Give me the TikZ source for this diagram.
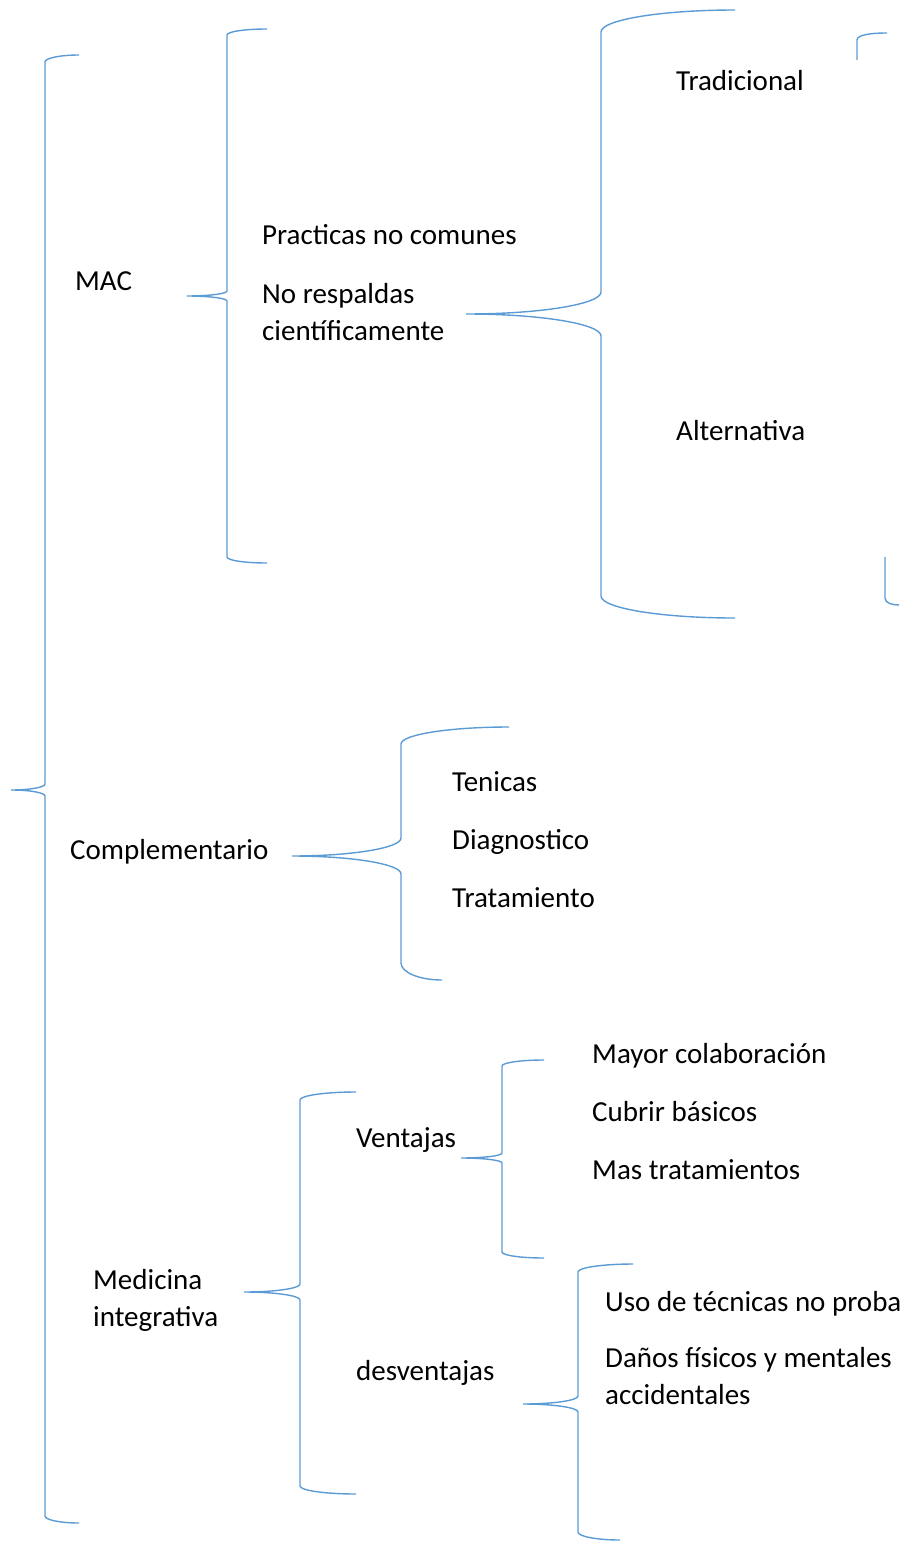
\documentclass[tikz,border=0pt]{standalone}
\usepackage{fontspec}
\setmainfont{Carlito}
\usetikzlibrary{calc}
\definecolor{bracecol}{RGB}{91,155,213}
\tikzset{
  brace line/.style={draw=bracecol, line width=1.4pt},
  item text/.style={anchor=base west, inner sep=0pt, align=left,
    font=\fontsize{29}{37}\selectfont},
}
% Word-style left brace:
% #1 x of stem, #2 top y, #3 top end x, #4 bottom y, #5 bottom end x,
% #6 tip x, #7 tip y, #8 end bend, #9 tip bend
\newcommand{\wordbrace}[9]{%
  \draw[brace line] (#3,#2) .. controls ({#1+0.448*(#3-#1)},#2) and (#1,{#2+0.448*#8}) .. (#1,{#2+#8})
    -- (#1,{#7-#9}) .. controls (#1,{#7-0.448*#9}) and ({#6+0.552*(#1-#6)},#7) .. (#6,#7)
    .. controls ({#6+0.552*(#1-#6)},#7) and (#1,{#7+0.448*#9}) .. (#1,{#7+#9})
    -- (#1,{#4-#8}) .. controls (#1,{#4-0.448*#8}) and ({#1+0.448*(#5-#1)},#4) .. (#5,#4);}

\begin{document}
\begin{tikzpicture}[x=1pt,y=-1pt]
  \useasboundingbox (0,0) rectangle (899,1541);
  \clip (0,0) rectangle (899,1541);

  % outer brace
  \wordbrace{45}{55}{79}{1523}{79}{11}{790}{7}{6}

  % MAC
  \node[item text] (mac) at (75,290) {MAC};
  \wordbrace{227}{29}{267}{563}{267}{187}{296}{6}{5}
  \node[item text] (comunes) at (262,244) {Practicas no comunes};
  \node[item text] (respaldo) at (262,340) {No respaldas\\científicamente};
  \wordbrace{601}{10}{735}{618}{735}{466}{314}{22}{22}
  \node[item text] (tradicional) at (676,91) {Tradicional};
  \node[item text] (alternativa) at (676,440) {Alternativa};
  % fragments at the right edge
  \draw[brace line] (857,60) -- (857,40) .. controls (857,35) and (870,33) .. (887,33);
  \draw[brace line] (885,557) -- (885,598) .. controls (885,603) and (892,605) .. (899,605);

  % Complementario
  \node[item text] (compl) at (70,859) {Complementario};
  \wordbrace{401}{727}{509}{980}{442}{292}{856}{17}{18}
  \node[item text] (tecnicas) at (452,791) {Tenicas};
  \node[item text] (diagnostico) at (452,849) {Diagnostico};
  \node[item text] (tratamiento) at (452,907) {Tratamiento};

  % Medicina integrativa
  \node[item text] (integrativa) at (93,1326) {Medicina\\integrativa};
  \wordbrace{300}{1092}{356}{1494}{356}{244}{1292}{8}{8}
  \node[item text] (ventajas) at (356,1147) {Ventajas};
  \node[item text] (desventajas) at (356,1380) {desventajas};
  \wordbrace{502}{1060}{544}{1258}{544}{461}{1158}{6}{5}
  \node[item text] (colab) at (592,1063) {Mayor colaboración};
  \node[item text] (basicos) at (592,1121) {Cubrir básicos};
  \node[item text] (mas) at (592,1179) {Mas tratamientos};
  \wordbrace{578}{1264}{633}{1540}{620}{523}{1404}{8}{8}
  \node[item text] (uso) at (605,1311) {Uso de técnicas no proba};
  \node[item text] (danos) at (605,1404) {Daños físicos y mentales\\accidentales};
\end{tikzpicture}
\end{document}
